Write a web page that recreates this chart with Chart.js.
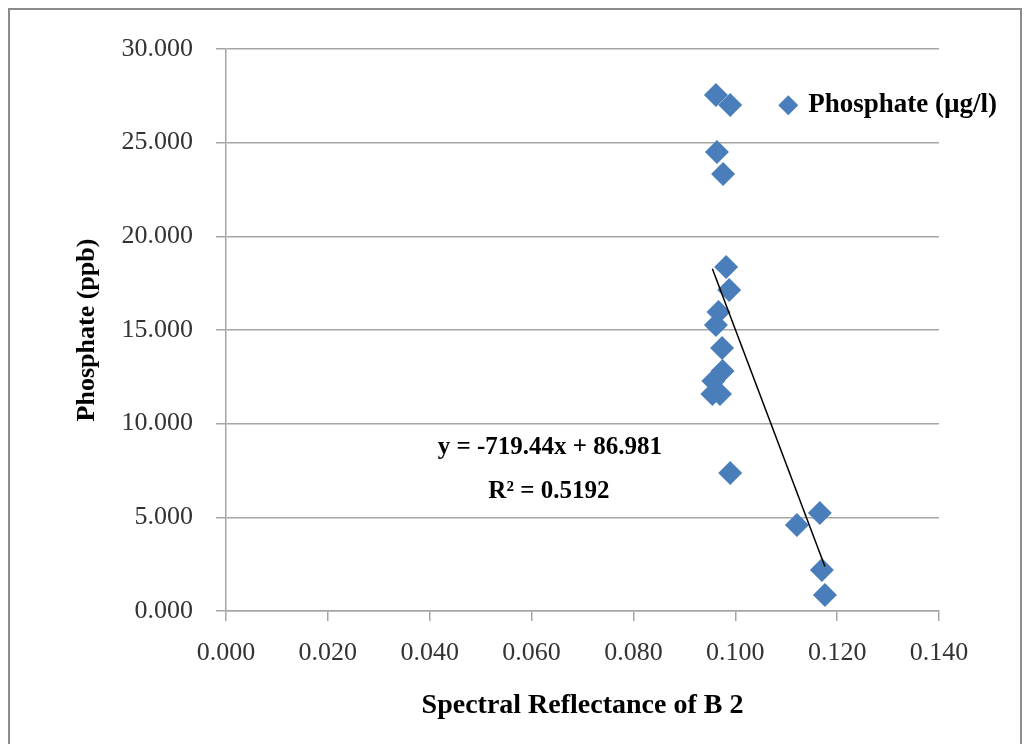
<!DOCTYPE html>
<html>
<head>
<meta charset="utf-8">
<script src="https://cdn.jsdelivr.net/npm/chart.js@4.4.1/dist/chart.umd.min.js"></script>
<style>
  html, body { margin: 0; padding: 0; background: #ffffff; }
  #wrap { position: relative; width: 1028px; height: 744px; }
</style>
</head>
<body>
<div id="wrap"><canvas id="c"></canvas></div>
<script>
// ---- data ----
const reflectanceB2 = [0.0962, 0.0990, 0.0964, 0.0976, 0.0982, 0.0988, 0.0967, 0.0962, 0.0974,
                       0.0975, 0.0957, 0.0955, 0.0970, 0.0990, 0.1166, 0.1121, 0.1170, 0.1176];
const phosphate    = [27.55, 27.01, 24.50, 23.33, 18.36, 17.14, 15.96, 15.27, 14.04,
                       12.81, 12.28, 11.58, 11.58, 7.37, 5.23, 4.59, 2.19, 0.85];
const trendSlope = -719.44;
const trendIntercept = 86.981;
const rSquared = 0.5192;
const seriesLabel = 'Phosphate (µg/l)';
const xTitle = 'Spectral Reflectance of B 2';
const yTitle = 'Phosphate (ppb)';
const equationLines = ['y = -719.44x + 86.981', 'R² = 0.5192'];

const points = reflectanceB2.map((x, i) => ({ x: x, y: phosphate[i] }));
const xMin = Math.min(...reflectanceB2), xMax = Math.max(...reflectanceB2);
const trend = [xMin, xMax].map(x => ({ x: x, y: trendSlope * x + trendIntercept }));

const SERIF = '"Liberation Serif", "Times New Roman", serif';
const BLUE = '#4a7ebb';

const framePlugin = {
  id: 'frame',
  beforeDraw(chart) {
    const ctx = chart.ctx;
    ctx.save();
    ctx.fillStyle = '#ffffff';
    ctx.fillRect(0, 0, chart.width, chart.height);
    ctx.strokeStyle = '#8c8c8c';
    ctx.lineWidth = 2;
    ctx.beginPath();
    ctx.moveTo(9, 760);
    ctx.lineTo(9, 9);
    ctx.lineTo(1021, 9);
    ctx.lineTo(1021, 760);
    ctx.stroke();
    ctx.restore();
  }
};

const annotatePlugin = {
  id: 'annotate',
  afterDatasetsDraw(chart) {
    const ctx = chart.ctx;
    const xs = chart.scales.x, ys = chart.scales.y;
    ctx.save();
    // trendline equation
    ctx.fillStyle = '#000000';
    ctx.font = 'bold 25px ' + SERIF;
    ctx.textAlign = 'center';
    ctx.textBaseline = 'middle';
    ctx.fillText(equationLines[0], xs.getPixelForValue(0.0636), ys.getPixelForValue(8.75));
    ctx.fillText(equationLines[1], xs.getPixelForValue(0.0634), ys.getPixelForValue(6.35));
    // legend
    const ds = chart.data.datasets[0];
    const lx = xs.getPixelForValue(0.1104), ly = ys.getPixelForValue(27.0);
    ctx.fillStyle = ds.backgroundColor;
    ctx.beginPath();
    ctx.moveTo(lx, ly - 10); ctx.lineTo(lx + 10, ly); ctx.lineTo(lx, ly + 10); ctx.lineTo(lx - 10, ly);
    ctx.closePath();
    ctx.fill();
    ctx.fillStyle = '#000000';
    ctx.font = 'bold 27px ' + SERIF;
    ctx.textAlign = 'left';
    ctx.fillText(ds.label, lx + 20, ly);
    ctx.restore();
  }
};

new Chart(document.getElementById('c'), {
  type: 'scatter',
  data: {
    datasets: [
      {
        label: seriesLabel,
        data: points,
        pointStyle: 'rectRot',
        pointRadius: 12,
        pointHoverRadius: 12,
        backgroundColor: BLUE,
        borderColor: BLUE,
        borderWidth: 0,
        order: 2
      },
      {
        label: 'Linear trend',
        type: 'line',
        data: trend,
        borderColor: '#000000',
        borderWidth: 1.5,
        pointRadius: 0,
        fill: false,
        order: 1
      }
    ]
  },
  options: {
    responsive: true,
    maintainAspectRatio: false,
    animation: false,
    layout: { padding: { left: 0, top: 49, right: 89, bottom: 0 } },
    plugins: {
      legend: { display: false },
      tooltip: { enabled: false }
    },
    scales: {
      x: {
        type: 'linear',
        min: 0, max: 0.14,
        afterFit(s) { s.height = 133; },
        ticks: {
          stepSize: 0.02,
          padding: 17,
          color: '#333333',
          font: { family: SERIF, size: 26 },
          callback: v => Number(v).toFixed(3)
        },
        grid: { drawOnChartArea: false, drawTicks: true, tickLength: 10, color: '#a6a6a6', lineWidth: 1.5 },
        border: { display: true, color: '#a6a6a6', width: 1.5 },
        title: {
          display: true,
          text: xTitle,
          color: '#000000',
          font: { family: SERIF, size: 28, weight: 'bold', lineHeight: 1.2 },
          padding: { top: 0, bottom: 21 }
        }
      },
      y: {
        type: 'linear',
        min: 0, max: 30,
        afterFit(s) { s.width = 226; },
        ticks: {
          stepSize: 5,
          padding: 23,
          color: '#333333',
          font: { family: SERIF, size: 26 },
          callback: v => Number(v).toFixed(3)
        },
        grid: { drawOnChartArea: true, drawTicks: true, tickLength: 10, color: '#a6a6a6', lineWidth: 1.5 },
        border: { display: true, color: '#a6a6a6', width: 1.5 },
        title: {
          display: true,
          text: yTitle,
          color: '#000000',
          font: { family: SERIF, size: 26, weight: 'bold', lineHeight: 1.2 },
          padding: { top: 72, bottom: 0 },
          align: 'center'
        }
      }
    }
  },
  plugins: [framePlugin, annotatePlugin]
});
</script>
</body>
</html>
